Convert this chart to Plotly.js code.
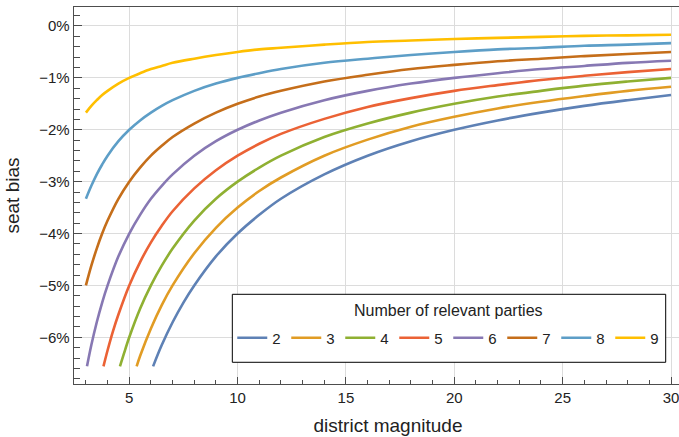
<!DOCTYPE html>
<html>
<head>
<meta charset="utf-8">
<script src="https://cdn.plot.ly/plotly-3.0.1.min.js"></script>
<style>
html, body { margin:0; padding:0; overflow:hidden; background:#fff; width:679px; height:437px; }
#chart { width:712px; height:437px; }
</style>
</head>
<body>
<div id="chart"></div>
<script>
// Number of relevant parties (legend labels)
const parties = ["2", "3", "4", "5", "6", "7", "8", "9"];
const colors = ["#5e81b5", "#e19c24", "#8fb032", "#eb6235", "#8778b3", "#c56e1a", "#5d9ec7", "#ffbf00"];
const legendTitle = "Number of relevant parties";

// district magnitude (x) and seat bias in % (y)
const m2 = [6.1, 6.5, 7, 7.5, 8, 9, 10, 11, 12, 14, 16, 18, 20, 22, 24, 26, 28, 30];
const b2 = [-6.56, -6.15, -5.71, -5.33, -5.0, -4.44, -4.0, -3.64, -3.33, -2.86, -2.5, -2.22, -2.0, -1.82, -1.67, -1.54, -1.43, -1.33];

const m3 = [5.34, 5.5, 6, 6.5, 7, 8, 9, 10, 11, 12, 14, 16, 18, 20, 22, 24, 26, 28, 30];
const b3 = [-6.56, -6.36, -5.83, -5.38, -5.0, -4.38, -3.89, -3.5, -3.18, -2.92, -2.5, -2.19, -1.94, -1.75, -1.59, -1.46, -1.35, -1.25, -1.17];

const m4 = [4.57, 4.75, 5, 5.5, 6, 6.5, 7, 8, 9, 10, 11, 12, 14, 16, 18, 20, 22, 24, 26, 28, 30];
const b4 = [-6.56, -6.32, -6.0, -5.45, -5.0, -4.62, -4.29, -3.75, -3.33, -3.0, -2.73, -2.5, -2.14, -1.88, -1.67, -1.5, -1.36, -1.25, -1.15, -1.07, -1.0];

const m5 = [3.81, 4, 4.25, 4.5, 5, 5.5, 6, 6.5, 7, 8, 9, 10, 11, 12, 14, 16, 18, 20, 22, 24, 26, 28, 30];
const b5 = [-6.56, -6.25, -5.88, -5.56, -5.0, -4.55, -4.17, -3.85, -3.57, -3.13, -2.78, -2.5, -2.27, -2.08, -1.79, -1.56, -1.39, -1.25, -1.14, -1.04, -0.96, -0.89, -0.83];

const m6 = [3.05, 3.25, 3.5, 3.75, 4, 4.5, 5, 5.5, 6, 6.5, 7, 8, 9, 10, 11, 12, 14, 16, 18, 20, 22, 24, 26, 28, 30];
const b6 = [-6.56, -6.15, -5.71, -5.33, -5.0, -4.44, -4.0, -3.64, -3.33, -3.08, -2.86, -2.5, -2.22, -2.0, -1.82, -1.67, -1.43, -1.25, -1.11, -1.0, -0.91, -0.83, -0.77, -0.71, -0.67];

const m7 = [3, 3.25, 3.5, 3.75, 4, 4.5, 5, 5.5, 6, 6.5, 7, 8, 9, 10, 11, 12, 14, 16, 18, 20, 22, 24, 26, 28, 30];
const b7 = [-5.0, -4.62, -4.29, -4.0, -3.75, -3.33, -3.0, -2.73, -2.5, -2.31, -2.14, -1.88, -1.67, -1.5, -1.36, -1.25, -1.07, -0.94, -0.83, -0.75, -0.68, -0.63, -0.58, -0.54, -0.5];

const m8 = [3, 3.25, 3.5, 3.75, 4, 4.5, 5, 5.5, 6, 6.5, 7, 8, 9, 10, 11, 12, 14, 16, 18, 20, 22, 24, 26, 28, 30];
const b8 = [-3.33, -3.08, -2.86, -2.67, -2.5, -2.22, -2.0, -1.82, -1.67, -1.54, -1.43, -1.25, -1.11, -1.0, -0.91, -0.83, -0.71, -0.63, -0.56, -0.5, -0.45, -0.42, -0.38, -0.36, -0.33];

const m9 = [3, 3.25, 3.5, 3.75, 4, 4.5, 5, 5.5, 6, 6.5, 7, 8, 9, 10, 11, 12, 14, 16, 18, 20, 22, 24, 26, 28, 30];
const b9 = [-1.67, -1.54, -1.43, -1.33, -1.25, -1.11, -1.0, -0.91, -0.83, -0.77, -0.71, -0.63, -0.56, -0.5, -0.45, -0.42, -0.36, -0.31, -0.28, -0.25, -0.23, -0.21, -0.19, -0.18, -0.17];

const xs = [m2, m3, m4, m5, m6, m7, m8, m9];
const ys = [b2, b3, b4, b5, b6, b7, b8, b9];

const FONT = "Liberation Sans, Arial, sans-serif";

const traces = parties.map((p, i) => ({
  type: "scatter",
  mode: "lines",
  x: xs[i],
  y: ys[i],
  name: p,
  line: { color: colors[i], width: 2.6, shape: "spline", smoothing: 1 },
  hoverinfo: "skip"
}));

const layout = {
  width: 712,
  height: 437,
  margin: { l: 74, r: 10, t: 7, b: 53 },
  paper_bgcolor: "#fff",
  plot_bgcolor: "#fff",
  font: { family: FONT, size: 15, color: "#222" },
  showlegend: true,
  xaxis: {
    range: [2.45, 31.43],
    tick0: 0, dtick: 5,
    ticks: "inside", ticklen: 7, tickwidth: 1, tickcolor: "#4d4d4d",
    minor: { dtick: 1, ticks: "inside", ticklen: 4, tickcolor: "#4d4d4d", showgrid: false },
    showgrid: true, gridcolor: "#dcdcdc", gridwidth: 1,
    showline: true, linecolor: "#4d4d4d", linewidth: 1.3, mirror: true,
    zeroline: false,
    tickfont: { family: FONT, size: 15, color: "#222" },
    title: { text: "district magnitude", font: { family: FONT, size: 19, color: "#222" }, standoff: 13 }
  },
  yaxis: {
    range: [-6.90, 0.366],
    tick0: 0, dtick: 1,
    ticksuffix: "%",
    ticks: "inside", ticklen: 8, tickwidth: 1, tickcolor: "#4d4d4d",
    minor: { dtick: 0.2, ticks: "inside", ticklen: 6, tickcolor: "#4d4d4d", showgrid: false },
    showgrid: true, gridcolor: "#dcdcdc", gridwidth: 1,
    showline: true, linecolor: "#4d4d4d", linewidth: 1.3, mirror: true,
    zeroline: false,
    tickfont: { family: FONT, size: 15, color: "#222" },
    title: { text: "seat bias", font: { family: FONT, size: 19, color: "#222" }, standoff: 14 }
  },
  shapes: [{
    type: "rect", xref: "paper", yref: "paper",
    x0: 0.2521, x1: 0.9422, y0: 0.0576, y1: 0.2379,
    fillcolor: "#fff", line: { color: "#000", width: 1 }, layer: "above"
  }],
  annotations: [{
    xref: "paper", yref: "paper",
    x: 0.597, y: 0.196, xanchor: "center", yanchor: "middle",
    text: legendTitle, showarrow: false,
    font: { family: FONT, size: 16, color: "#222" }
  }],
  legend: {
    orientation: "h",
    x: 0.252, xanchor: "left",
    y: 0.122, yanchor: "middle",
    bgcolor: "rgba(0,0,0,0)",
    borderwidth: 0,
    font: { family: FONT, size: 15, color: "#222" },
    entrywidth: 9,
    entrywidthmode: "pixels",
    itemwidth: 30,
    traceorder: "normal"
  }
};

Plotly.newPlot("chart", traces, layout, { displayModeBar: false, staticPlot: true });
</script>
</body>
</html>
